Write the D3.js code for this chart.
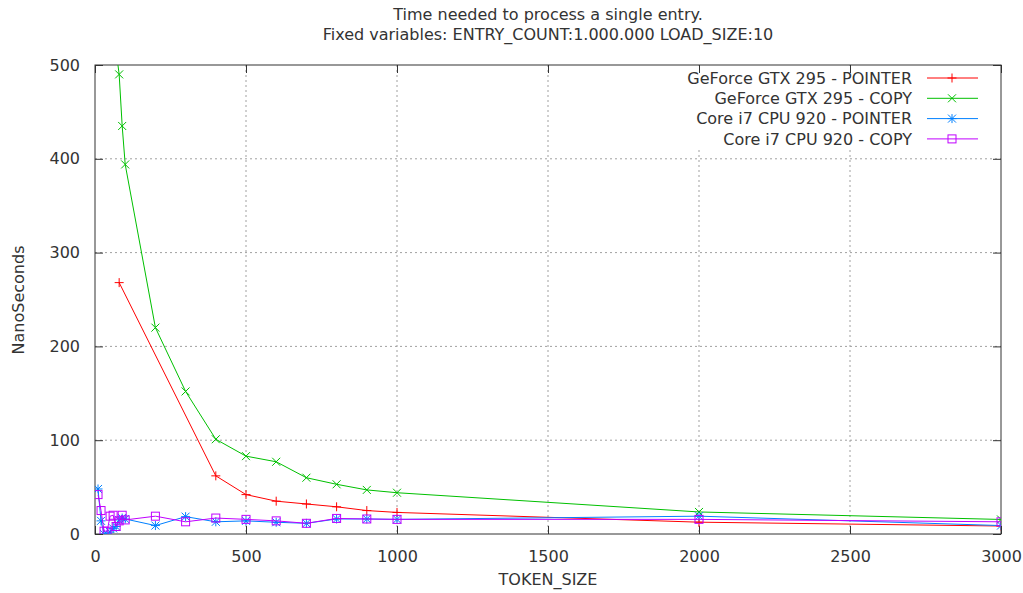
<!DOCTYPE html>
<html>
<head>
<meta charset="utf-8">
<script src="https://cdn.jsdelivr.net/npm/d3@7"></script>
<style>
  html, body { margin: 0; padding: 0; background: #fff; }
  svg { display: block; }
  text { font-family: "DejaVu Sans", sans-serif; font-size: 16px; fill: #333; }
</style>
</head>
<body>
<svg id="chart" width="1023" height="593"></svg>
<script>
// ---- Data ----
const titleLines = ["Time needed to process a single entry.", "Fixed variables: ENTRY_COUNT:1.000.000 LOAD_SIZE:10"];
const xLabel = "TOKEN_SIZE";
const yLabel = "NanoSeconds";
const xTicks = [0, 500, 1000, 1500, 2000, 2500, 3000];
const yTicks = [0, 100, 200, 300, 400, 500];

const seriesNames = ["GeForce GTX 295 - POINTER", "GeForce GTX 295 - COPY", "Core i7 CPU 920 - POINTER", "Core i7 CPU 920 - COPY"];
const seriesColors = ["#ff0000", "#00c000", "#0080ff", "#c000ff"];
const seriesMarkers = ["plus", "cross", "star", "square"];

const gpuPointerX = [80, 400, 500, 600, 700, 800, 900, 1000, 2000, 3000];
const gpuPointerY = [268, 62, 42, 35, 32, 29, 25, 23, 12.6, 8.5];

const gpuCopyX = [70, 80, 90, 100, 200, 300, 400, 500, 600, 700, 800, 900, 1000, 2000, 3000];
const gpuCopyY = [515, 490, 435, 394, 220, 152, 101, 83, 77, 60, 53, 47, 44, 23.5, 15.5];

const cpuX = [10, 20, 30, 40, 50, 60, 70, 80, 90, 100, 200, 300, 400, 500, 600, 700, 800, 900, 1000, 2000, 3000];
const cpuPointerY = [48, 14, 0, 0, 2, 6, 8, 15, 17, 16, 9, 18.5, 13, 14, 12.5, 11.4, 16, 16, 15.6, 19, 9];
const cpuCopyY = [42, 25, 3, 3, 19, 20, 8, 14, 20, 15, 19, 13, 17, 15.6, 14, 11.4, 16.6, 16, 15.6, 15.6, 13];

const seriesX = [gpuPointerX, gpuCopyX, cpuX, cpuX];
const seriesY = [gpuPointerY, gpuCopyY, cpuPointerY, cpuCopyY];

// ---- Layout ----
const svg = d3.select("#chart");
const mLeft = 95, mRight = 1001, mTop = 65, mBottom = 534;

const x = d3.scaleLinear().domain([0, 3000]).range([mLeft, mRight]);
const y = d3.scaleLinear().domain([0, 500]).range([mBottom, mTop]);

// clip
svg.append("defs").append("clipPath").attr("id", "plotclip")
  .append("rect").attr("x", mLeft).attr("y", mTop).attr("width", mRight - mLeft).attr("height", mBottom - mTop);

// grid
const grid = svg.append("g");
grid.selectAll("line.gx").data(xTicks.filter(d => d > 0 && d < 3000)).join("line")
  .attr("x1", d => x(d)).attr("x2", d => x(d)).attr("y1", mTop).attr("y2", mBottom)
  .attr("stroke", "#a0a0a0").attr("stroke-dasharray", "2,3").attr("stroke-width", 1);
grid.selectAll("line.gy").data(yTicks.filter(d => d > 0 && d < 500)).join("line")
  .attr("y1", d => y(d)).attr("y2", d => y(d)).attr("x1", mLeft).attr("x2", mRight)
  .attr("stroke", "#a0a0a0").attr("stroke-dasharray", "2,3").attr("stroke-width", 1);

// legend background (opaque key)
svg.append("rect").attr("x", 672).attr("y", mTop + 1).attr("width", mRight - 673).attr("height", 82).attr("fill", "#fff");

// axes via d3
const tickLen = 8;
const xAxisB = d3.axisBottom(x).tickValues(xTicks).tickSize(-tickLen).tickPadding(0).tickFormat(d3.format("d"));
const xAxisT = d3.axisTop(x).tickValues(xTicks).tickSize(-tickLen).tickFormat("");
const yAxisL = d3.axisLeft(y).tickValues(yTicks).tickSize(-tickLen).tickFormat(d3.format("d"));
const yAxisR = d3.axisRight(y).tickValues(yTicks).tickSize(-tickLen).tickFormat("");

const gxb = svg.append("g").attr("transform", `translate(0,${mBottom})`).call(xAxisB);
const gxt = svg.append("g").attr("transform", `translate(0,${mTop})`).call(xAxisT);
const gyl = svg.append("g").attr("transform", `translate(${mLeft},0)`).call(yAxisL);
const gyr = svg.append("g").attr("transform", `translate(${mRight},0)`).call(yAxisR);
[gxb, gxt, gyl, gyr].forEach(g => {
  g.select(".domain").remove();
  g.selectAll(".tick line").attr("stroke", "#333");
  g.selectAll(".tick text").attr("fill", "#333").style("font-size", "16px").style("font-family", "DejaVu Sans, sans-serif");
});
gxb.selectAll(".tick text").attr("y", 17).attr("dy", "0.71em");
gyl.selectAll(".tick text").attr("x", -15);

// border
svg.append("rect").attr("x", mLeft).attr("y", mTop).attr("width", mRight - mLeft).attr("height", mBottom - mTop)
  .attr("fill", "none").attr("stroke", "#333").attr("stroke-width", 1);

// markers
function drawMarker(g, type, cx, cy, color) {
  const s = 4;
  if (type === "plus" || type === "star") {
    g.append("line").attr("x1", cx - s - 0.5).attr("x2", cx + s + 0.5).attr("y1", cy).attr("y2", cy).attr("stroke", color);
    g.append("line").attr("x1", cx).attr("x2", cx).attr("y1", cy - s - 0.5).attr("y2", cy + s + 0.5).attr("stroke", color);
  }
  if (type === "cross" || type === "star") {
    g.append("line").attr("x1", cx - s).attr("x2", cx + s).attr("y1", cy - s).attr("y2", cy + s).attr("stroke", color);
    g.append("line").attr("x1", cx - s).attr("x2", cx + s).attr("y1", cy + s).attr("y2", cy - s).attr("stroke", color);
  }
  if (type === "square") {
    g.append("rect").attr("x", cx - s).attr("y", cy - s).attr("width", 2 * s).attr("height", 2 * s)
      .attr("fill", "none").attr("stroke", color);
  }
}

// series
const plot = svg.append("g").attr("clip-path", "url(#plotclip)");
const line = d3.line().x(d => x(d[0])).y(d => y(d[1]));
seriesNames.forEach((name, i) => {
  const pts = seriesX[i].map((xv, j) => [xv, seriesY[i][j]]);
  const g = plot.append("g");
  g.append("path").datum(pts).attr("d", line).attr("fill", "none")
    .attr("stroke", seriesColors[i]).attr("stroke-width", 1);
  pts.forEach(p => {
    if (p[1] <= 500) drawMarker(g, seriesMarkers[i], x(p[0]), y(p[1]), seriesColors[i]);
  });
});

// legend
const lg = svg.append("g");
seriesNames.forEach((name, i) => {
  const cy = 78 + i * 20.3;
  lg.append("text").attr("x", 912).attr("y", cy).attr("dy", "0.35em").attr("text-anchor", "end").text(name);
  lg.append("line").attr("x1", 927).attr("x2", 978).attr("y1", cy).attr("y2", cy).attr("stroke", seriesColors[i]);
  drawMarker(lg, seriesMarkers[i], 952, cy, seriesColors[i]);
});

// titles
titleLines.forEach((t, i) => {
  svg.append("text").attr("x", 548).attr("y", 14 + i * 20).attr("dy", "0.35em")
    .attr("text-anchor", "middle").text(t);
});
svg.append("text").attr("x", 548).attr("y", 579).attr("dy", "0.35em").attr("text-anchor", "middle").text(xLabel);
svg.append("text").attr("transform", "translate(18,300) rotate(-90)").attr("dy", "0.35em")
  .attr("text-anchor", "middle").text(yLabel);
</script>
</body>
</html>
